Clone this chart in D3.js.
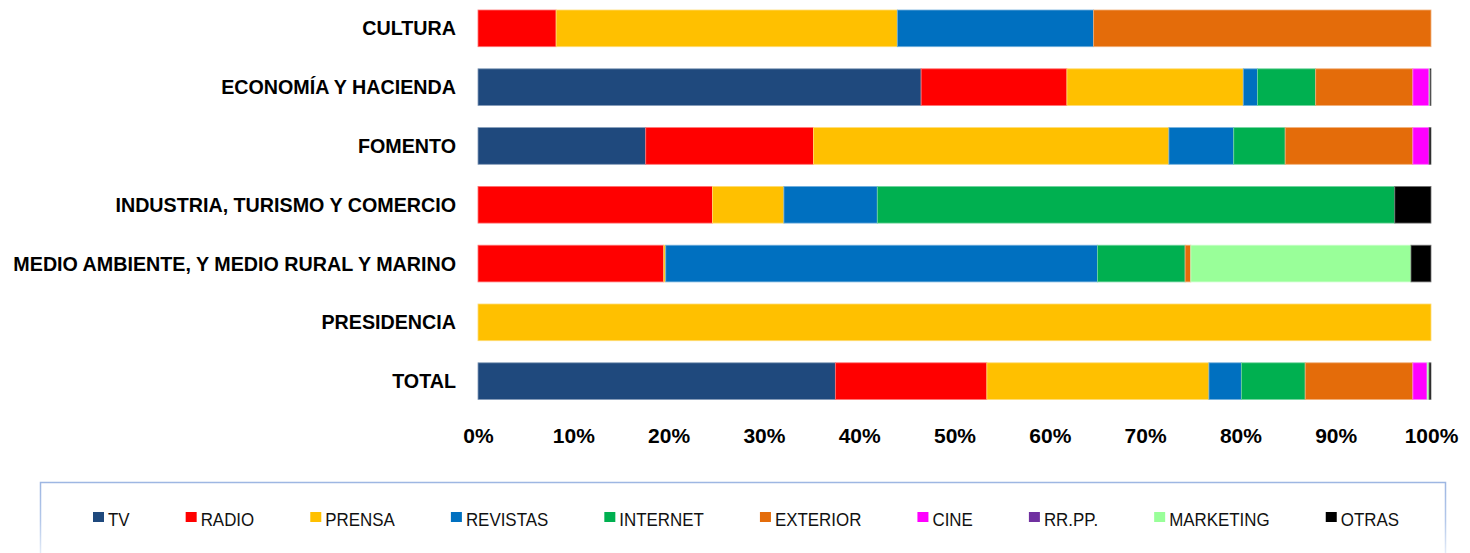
<!DOCTYPE html>
<html>
<head>
<meta charset="utf-8">
<script src="https://cdn.jsdelivr.net/npm/d3@7"></script>
<style>
  html, body { margin: 0; padding: 0; background: #fff; }
  svg { display: block; }
</style>
</head>
<body>
<svg id="chart" width="1470" height="553"></svg>
<script>
// ---------- data ----------
const categories = [
  "CULTURA",
  "ECONOMÍA Y HACIENDA",
  "FOMENTO",
  "INDUSTRIA, TURISMO Y COMERCIO",
  "MEDIO AMBIENTE, Y MEDIO RURAL Y MARINO",
  "PRESIDENCIA",
  "TOTAL"
];
const seriesNames = ["TV", "RADIO", "PRENSA", "REVISTAS", "INTERNET", "EXTERIOR", "CINE", "RR.PP.", "MARKETING", "OTRAS"];
const tv        = [0,    46.5, 17.6, 0,    0,    0,   37.5];
const radio     = [8.2,  15.3, 17.6, 24.6, 19.5, 0,   15.9];
const prensa    = [35.8, 18.5, 37.3, 7.5,  0.2,  100, 23.3];
const revistas  = [20.6, 1.5,  6.8,  9.8,  45.3, 0,   3.4];
const internet  = [0,    6.1,  5.4,  54.3, 9.2,  0,   6.7];
const exterior  = [35.4, 10.2, 13.4, 0,    0.6,  0,   11.3];
const cine      = [0,    1.7,  1.7,  0,    0,    0,   1.5];
const rrpp      = [0,    0,    0,    0,    0,    0,   0];
const marketing = [0,    0.1,  0,    0,    23.1, 0,   0.2];
const otras     = [0,    0.1,  0.2,  3.8,  2.1,  0,   0.2];
const tickValues = [0, 10, 20, 30, 40, 50, 60, 70, 80, 90, 100];
const tickLabels = ["0%", "10%", "20%", "30%", "40%", "50%", "60%", "70%", "80%", "90%", "100%"];

// ---------- styles ----------
const colors = ["#1F497D", "#FF0000", "#FFC000", "#0070C0", "#00B050", "#E46C0A", "#FF00FF", "#7030A0", "#99FF99", "#000000"];

const seriesValues = [tv, radio, prensa, revistas, internet, exterior, cine, rrpp, marketing, otras];
const table = categories.map((c, i) => {
  const row = { category: c };
  seriesNames.forEach((s, j) => { row[s] = seriesValues[j][i]; });
  return row;
});

const svg = d3.select("#chart");

const x = d3.scaleLinear().domain([0, 100]).range([478, 1431]);
const y = d3.scaleBand().domain(categories)
  .range([-1.05, 410.55]).paddingInner(0.376).paddingOuter(0.188);

const stacked = d3.stack().keys(seriesNames)(table);
const color = d3.scaleOrdinal().domain(seriesNames).range(colors);

const layers = svg.append("g").selectAll("g")
  .data(stacked).join("g")
  .attr("fill", d => color(d.key))
  .attr("stroke", d => d3.interpolateRgb(color(d.key), "#ffffff")(0.45))
  .attr("stroke-width", 0.8);

layers.selectAll("rect")
  .data(d => d.filter(p => p[1] - p[0] > 0))
  .join("rect")
  .attr("x", d => x(d[0]))
  .attr("width", d => x(d[1]) - x(d[0]))
  .attr("y", d => y(d.data.category))
  .attr("height", y.bandwidth());

// category labels
svg.append("g").selectAll("text")
  .data(categories).join("text")
  .attr("x", 456)
  .attr("y", d => y(d) + y.bandwidth() / 2 + 7)
  .attr("text-anchor", "end")
  .attr("font-family", "Liberation Sans, Arial, sans-serif")
  .attr("font-weight", "bold")
  .attr("font-size", "19.7px")
  .attr("fill", "#000")
  .text(d => d);

// x axis (labels only)
const xAxis = d3.axisBottom(x).tickValues(tickValues)
  .tickFormat((d, i) => tickLabels[i]).tickSize(0).tickPadding(0);
const ax = svg.append("g").attr("transform", "translate(0,428)").call(xAxis);
ax.select(".domain").remove();
ax.selectAll("text")
  .attr("dy", "0.71em")
  .attr("font-family", "Liberation Sans, Arial, sans-serif")
  .attr("font-weight", "bold")
  .attr("font-size", "21px")
  .attr("fill", "#000");

// legend box
const defs = svg.append("defs");
const grad = defs.append("linearGradient").attr("id", "lgBorder")
  .attr("gradientUnits", "userSpaceOnUse")
  .attr("x1", 0).attr("y1", 482).attr("x2", 0).attr("y2", 553);
grad.append("stop").attr("offset", "0%").attr("stop-color", "#9db6e2");
grad.append("stop").attr("offset", "55%").attr("stop-color", "#b4c8ea");
grad.append("stop").attr("offset", "100%").attr("stop-color", "#e3ebf7");
svg.append("path")
  .attr("d", "M40.5,560 L40.5,482.5 L1445.5,482.5 L1445.5,560")
  .attr("fill", "none")
  .attr("stroke", "url(#lgBorder)")
  .attr("stroke-width", 1.5);

// legend items
const legend = svg.append("g");
const items = legend.selectAll("g").data(seriesNames).join("g");
items.append("rect")
  .attr("width", 11).attr("height", 10)
  .attr("y", 512)
  .attr("fill", d => color(d));
const texts = items.append("text")
  .attr("y", 526)
  .attr("font-family", "Liberation Sans, Arial, sans-serif")
  .attr("font-size", "19px")
  .attr("fill", "#111")
  .text(d => d);
const widths = [];
texts.each(function() {
  const w = this.getComputedTextLength() * 0.89;
  widths.push(w);
  d3.select(this).attr("textLength", w).attr("lengthAdjust", "spacingAndGlyphs");
});
const startX = 93, endX = 1399, markGap = 15;
const totalItems = d3.sum(widths) + markGap * seriesNames.length;
const gap = (endX - startX - totalItems) / (seriesNames.length - 1);
let cx = startX;
items.each(function(d, i) {
  const g = d3.select(this);
  g.select("rect").attr("x", cx);
  g.select("text").attr("x", cx + markGap);
  cx += markGap + widths[i] + gap;
});
</script>
</body>
</html>
